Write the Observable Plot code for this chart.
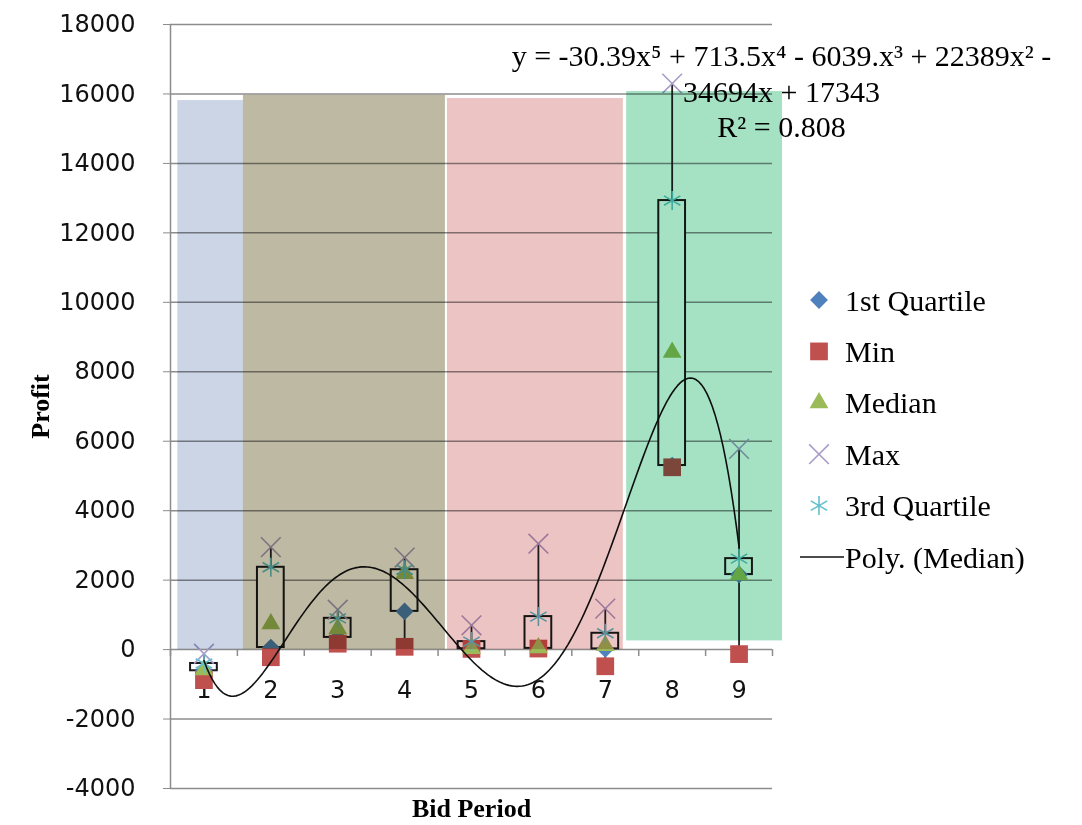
<!DOCTYPE html>
<html><head><meta charset="utf-8">
<script src="https://cdn.jsdelivr.net/npm/d3@7"></script>
<script src="https://cdn.jsdelivr.net/npm/@observablehq/plot@0.6"></script>
<style>
body{margin:0;background:#fff;}
#wrap{position:relative;width:1082px;height:825px;background:#fff;}
#legend{position:absolute;left:790px;top:270px;}
</style></head><body><div id="wrap"></div>
<script>
// ---- data ----
const periods      = [1, 2, 3, 4, 5, 6, 7, 8, 9];
const q1Values     = [-610, 60, 350, 1100, 25, 35, 20, 5300, 2160];
const minValues    = [-880, -220, 170, 80, 20, 30, -480, 5250, -130];
const medianValues = [-580, 740, 600, 2190, 30, 50, 115, 8560, 2150];
const maxValues    = [-120, 2950, 1150, 2650, 700, 3050, 1180, 16300, 5780];
const q3Values     = [-400, 2370, 900, 2300, 230, 950, 470, 12930, 2620];
// trendline coefficients shown on the chart (c0 + c1 x + ... + c5 x^5)
const trendCoefs = [17343, -34694, 22389, -6039, 713.5, -30.39];
const yTicks = [-4000, -2000, 0, 2000, 4000, 6000, 8000, 10000, 12000, 14000, 16000, 18000];
const xBoundaries = [0.5, 1.5, 2.5, 3.5, 4.5, 5.5, 6.5, 7.5, 8.5, 9.5];
// shaded phases (in period / profit units)
const regionStart  = [0.61, 1.59, 4.64, 7.32];
const regionEnd    = [1.59, 4.61, 7.27, 9.65];
const regionTop    = [15810, 15960, 15870, 16070];
const regionBottom = [0, 0, 0, 250];
const regionColors = ["#cbd5e6", "#bdb9a3", "#ecc4c4", "#a5e2c4"];
const legendLabels = ["1st Quartile", "Min", "Median", "Max", "3rd Quartile", "Poly. (Median)"];
const equationText = "y = -30.39x\u2075 + 713.5x\u2074 - 6039.x\u00b3 + 22389x\u00b2 -\n34694x + 17343\nR\u00b2 = 0.808";

// ---- derived tables ----
const rows = periods.map((p, i) => ({
  period: p, q1: q1Values[i], min: minValues[i], median: medianValues[i], max: maxValues[i], q3: q3Values[i]
}));
const regions = regionStart.map((s, i) => ({s, e: regionEnd[i], t: regionTop[i], b: regionBottom[i], c: regionColors[i]}));
const poly = x => trendCoefs.reduce((acc, c, k) => acc + c * Math.pow(x, k), 0);
const trend = d3.range(1, 9.0001, 0.04).map(x => ({x, y: poly(x)}));

const serif = "Liberation Serif, Times New Roman, serif";
const sans = "DejaVu Sans, Verdana, sans-serif";
const C = {q1: "#4f81bd", min: "#c0504d", median: "#9bbb59", max: "#a99dc8", q3: "#63c0cf"};

const chart = Plot.plot({
  width: 1082, height: 825,
  marginLeft: 170, marginRight: 310, marginTop: 24, marginBottom: 37,
  style: {background: "white", overflow: "visible"},
  x: {domain: [0.5, 9.5], axis: null},
  y: {domain: [-4000, 18000], axis: null},
  marks: [
    Plot.ruleY(yTicks, {x1: 0.5, x2: 9.5, stroke: "#8c8c8c", strokeWidth: 1.5}),
    Plot.ruleX([0.5], {stroke: "#8c8c8c", strokeWidth: 1.5}),
    Plot.ruleX(xBoundaries, {y1: 0, y2: -200, stroke: "#8c8c8c", strokeWidth: 1.5}),
    Plot.axisY({ticks: yTicks, tickSize: 7, tickPadding: 28, fontSize: 24, fontFamily: sans,
      stroke: "#8c8c8c", fill: "#111", label: null, tickFormat: d => String(d)}),
    Plot.text(periods, {x: d => d, y: () => 0, dy: 41, text: d => String(d), fontSize: 24, fontFamily: sans, fill: "#111"}),
    Plot.ruleX(rows, {x: "period", y1: "min", y2: "max", stroke: "#222", strokeWidth: 1.8}),
    Plot.rect(rows, {x1: d => d.period - 0.2, x2: d => d.period + 0.2, y1: "q1", y2: "q3",
      fill: "white", stroke: "#1a1a1a", strokeWidth: 2}),
    Plot.dot(rows, {x: "period", y: "q1", symbol: "diamond2", r: 8, fill: C.q1}),
    Plot.dot(rows, {x: "period", y: "min", symbol: "square", r: 10, fill: C.min}),
    Plot.dot(rows, {x: "period", y: "median", symbol: "triangle", r: 7, fill: C.median}),
    Plot.dot(rows, {x: "period", y: "max", symbol: "times", r: 9, fill: "none", stroke: C.max, strokeWidth: 1.6}),
    Plot.dot(rows, {x: "period", y: "q3", symbol: "asterisk", r: 9, fill: "none", stroke: C.q3, strokeWidth: 1.6}),
    Plot.line(trend, {x: "x", y: "y", stroke: "#111", strokeWidth: 1.6}),
    Plot.rect(regions, {x1: "s", x2: "e", y1: "b", y2: "t", fill: d => d.c, mixBlendMode: "multiply"}),
    Plot.text([equationText], {frameAnchor: "top-right", dx: 9, dy: 17, textAnchor: "middle", lineAnchor: "top",
      lineHeight: 1.17, fontSize: 30, fontFamily: serif, fill: "#000"}),
    Plot.text(["Profit"], {frameAnchor: "left", dx: -130, rotate: -90, textAnchor: "middle", lineAnchor: "middle",
      fontSize: 26, fontWeight: "bold", fontFamily: serif, fill: "#000"}),
    Plot.text(["Bid Period"], {frameAnchor: "bottom", dy: 20, lineAnchor: "middle", textAnchor: "middle",
      fontSize: 26, fontWeight: "bold", fontFamily: serif, fill: "#000"})
  ]
});
document.getElementById("wrap").appendChild(chart);

// ---- legend ----
const leg = d3.select("#wrap").append("svg").attr("id", "legend").attr("width", 292).attr("height", 320);
const symSize = r => Math.PI * r * r;
const legSyms = [
  {sym: d3.symbolDiamond2, r: 8, fill: C.q1},
  {sym: d3.symbolSquare, r: 10, fill: C.min},
  {sym: d3.symbolTriangle, r: 7, fill: C.median},
  {sym: d3.symbolTimes, r: 9, stroke: C.max},
  {sym: d3.symbolAsterisk, r: 9, stroke: C.q3},
  null
];
legendLabels.forEach((lab, i) => {
  const y = 30 + i * 51.4;
  const s = legSyms[i];
  if (s) {
    leg.append("path").attr("transform", `translate(29,${y})`)
      .attr("d", d3.symbol(s.sym, symSize(s.r))())
      .attr("fill", s.fill || "none").attr("stroke", s.stroke || "none").attr("stroke-width", 1.6);
  } else {
    leg.append("line").attr("x1", 10).attr("x2", 54).attr("y1", y).attr("y2", y).attr("stroke", "#111").attr("stroke-width", 1.6);
  }
  leg.append("text").attr("x", 55).attr("y", y).attr("dy", "0.35em")
    .attr("font-family", serif).attr("font-size", 30).attr("fill", "#000").text(lab);
});
</script></body></html>
